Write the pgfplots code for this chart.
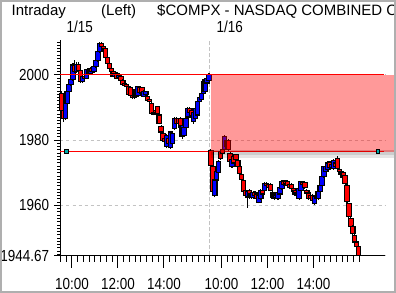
\documentclass[border=0pt]{standalone}
\usepackage{pgfplots}
\pgfplotsset{compat=1.18}
\usepackage{pgfplotstable}
\usepackage{fontspec}
\setmainfont{Liberation Sans}
\newfontfamily\numfont{Liberation Sans}[FakeStretch=0.84]
\definecolor{bordergray}{RGB}{175,175,175}
\definecolor{gridgray}{RGB}{195,195,195}
\definecolor{mk}{RGB}{0,170,170}
\definecolor{pureRed}{RGB}{255,0,0}
\definecolor{pureBlue}{RGB}{0,0,255}
% t = minutes since 9:30 of 1/15 (1/16 starts at 390); 5-minute candles
\pgfplotstableread{
t O H L C
2.5 1994.4 1995.0 1988.8 1989.2
7.5 1989.2 1989.8 1985.7 1986.7
12.5 1986.7 1992.0 1986.2 1991.3
17.5 1991.3 1995.5 1988.0 1995.0
22.5 1995.0 1997.4 1994.6 1997.0
27.5 1997.0 1999.0 1996.6 1998.5
32.5 1998.5 2003.6 1998.2 2003.0
37.5 2003.0 2004.5 2000.6 2001.0
42.5 2001.0 2004.0 2000.6 2003.3
47.5 2003.3 2003.8 2000.8 2001.2
52.5 2001.2 2001.6 1997.5 1998.0
57.5 1998.0 1999.9 1997.6 1999.5
62.5 1999.5 2000.0 1998.4 1999.0
67.5 1999.0 2001.9 1998.6 2001.5
72.5 2001.5 2002.0 2000.0 2000.5
77.5 2000.5 2002.4 2000.1 2002.0
82.5 2002.0 2002.4 2000.6 2001.0
87.5 2001.0 2002.9 2000.6 2002.5
92.5 2002.5 2004.7 2002.1 2004.3
97.5 2004.3 2007.6 2004.0 2007.2
102.5 2007.2 2010.2 2006.8 2009.7
107.5 2009.7 2010.0 2008.4 2008.8
112.5 2008.8 2009.2 2007.6 2008.0
117.5 2008.0 2008.3 2004.8 2005.2
122.5 2005.2 2005.6 2003.2 2003.6
127.5 2003.6 2004.0 2001.6 2002.0
132.5 2002.0 2002.4 2000.6 2001.0
137.5 2001.0 2001.4 1999.2 1999.6
142.5 1999.4 2000.9 1999.0 2000.5
147.5 2000.5 2000.9 1998.6 1999.0
152.5 1999.2 2000.2 1998.8 1999.8
157.5 1999.5 1999.9 1997.9 1998.3
162.5 1998.3 1998.7 1996.6 1997.0
167.5 1997.4 1997.8 1996.2 1996.6
172.5 1997.0 1997.4 1996.1 1996.5
177.5 1996.5 1996.9 1993.6 1994.0
182.5 1996.0 1996.4 1992.8 1993.8
187.5 1993.8 1994.2 1992.6 1993.0
192.5 1993.0 1995.4 1992.6 1995.0
197.5 1993.5 1995.9 1993.1 1995.5
202.5 1993.8 1996.7 1993.4 1996.3
207.5 1996.1 1996.5 1994.1 1994.5
212.5 1996.0 1996.4 1994.1 1994.5
217.5 1993.5 1995.4 1993.1 1995.0
222.5 1994.0 1995.2 1993.6 1994.8
227.5 1993.5 1993.9 1991.8 1992.2
232.5 1992.5 1992.9 1991.4 1991.8
237.5 1991.3 1991.7 1987.8 1988.2
242.5 1988.5 1988.9 1987.6 1988.0
247.5 1989.0 1989.4 1988.1 1988.5
252.5 1990.2 1990.6 1987.8 1988.2
257.5 1987.7 1988.1 1984.8 1985.2
262.5 1984.3 1984.7 1982.1 1982.5
267.5 1982.0 1982.4 1979.6 1980.0
272.5 1980.5 1980.9 1978.0 1979.5
277.5 1978.0 1981.9 1977.5 1981.5
282.5 1980.5 1980.9 1977.5 1979.0
287.5 1977.8 1982.9 1977.3 1982.5
292.5 1979.0 1982.4 1978.6 1982.0
297.5 1983.6 1987.1 1983.2 1986.7
302.5 1986.7 1987.1 1984.6 1985.0
307.5 1986.5 1986.9 1984.6 1985.0
312.5 1986.7 1987.1 1983.6 1984.0
317.5 1981.2 1984.9 1980.5 1984.5
322.5 1981.5 1984.4 1981.1 1984.0
327.5 1984.0 1986.9 1983.6 1986.5
332.5 1987.1 1990.2 1986.7 1989.8
337.5 1989.8 1990.2 1988.1 1988.5
342.5 1989.0 1989.4 1987.1 1987.5
347.5 1985.8 1988.9 1985.0 1988.5
352.5 1986.5 1990.2 1986.1 1989.8
357.5 1987.7 1992.1 1987.3 1991.7
362.5 1991.7 1993.4 1991.3 1993.0
367.5 1992.5 1994.7 1992.1 1994.3
372.5 1994.3 1998.2 1993.9 1997.8
377.5 1995.0 1998.9 1994.6 1998.5
382.5 1997.5 1999.4 1997.1 1999.0
387.5 1998.4 2000.5 1998.0 2000.0
392.5 1976.8 1977.2 1971.9 1972.3
397.5 1972.0 1972.4 1963.8 1964.2
402.5 1963.1 1968.2 1962.5 1967.8
407.5 1967.8 1970.9 1967.4 1970.5
412.5 1970.0 1973.8 1969.6 1973.4
417.5 1976.4 1976.8 1974.0 1974.4
422.5 1977.0 1977.4 1975.6 1976.0
427.5 1977.0 1981.5 1976.6 1981.0
432.5 1980.0 1980.4 1977.6 1978.0
437.5 1980.0 1980.4 1976.6 1977.0
442.5 1976.0 1976.4 1973.0 1973.4
447.5 1972.0 1974.4 1971.6 1974.0
452.5 1975.0 1975.4 1972.6 1973.0
457.5 1975.5 1975.9 1973.6 1974.0
462.5 1973.9 1974.3 1971.4 1971.8
467.5 1971.8 1972.2 1969.4 1969.8
472.5 1969.5 1969.9 1967.6 1968.0
477.5 1967.7 1968.1 1963.8 1964.2
482.5 1964.5 1964.9 1962.6 1963.0
487.5 1962.6 1964.6 1959.3 1964.2
492.5 1964.5 1964.9 1962.1 1962.5
497.5 1962.5 1963.9 1962.1 1963.5
502.5 1962.5 1964.4 1962.1 1964.0
507.5 1964.0 1964.4 1962.6 1963.0
512.5 1963.5 1963.9 1961.6 1962.0
517.5 1961.0 1963.4 1960.6 1963.0
522.5 1962.0 1965.1 1961.6 1964.7
527.5 1964.7 1965.1 1963.1 1963.5
532.5 1964.7 1967.2 1964.3 1966.8
537.5 1966.8 1967.2 1965.6 1966.0
542.5 1966.5 1966.9 1965.1 1965.5
547.5 1966.5 1966.9 1964.3 1964.7
552.5 1964.0 1964.4 1962.1 1962.5
557.5 1963.5 1963.9 1961.6 1962.0
562.5 1962.5 1963.4 1962.1 1963.0
567.5 1962.0 1964.4 1961.6 1964.0
572.5 1963.5 1965.9 1963.1 1965.5
577.5 1965.2 1967.6 1964.8 1967.2
582.5 1967.5 1967.9 1966.1 1966.5
587.5 1967.5 1967.9 1966.4 1966.8
592.5 1967.3 1967.7 1965.6 1966.0
597.5 1966.3 1966.7 1965.1 1965.5
602.5 1966.5 1966.9 1964.9 1965.3
607.5 1965.3 1965.7 1963.8 1964.2
612.5 1964.5 1964.9 1963.1 1963.5
617.5 1963.0 1964.2 1962.6 1963.8
622.5 1962.2 1965.7 1961.8 1965.3
627.5 1964.7 1967.6 1964.3 1967.2
632.5 1967.0 1967.4 1966.1 1966.5
637.5 1967.0 1967.4 1965.1 1965.5
642.5 1964.5 1964.9 1963.4 1963.8
647.5 1963.8 1964.2 1961.8 1962.2
652.5 1963.0 1963.4 1961.6 1962.0
657.5 1963.0 1963.4 1961.1 1961.5
662.5 1960.6 1963.1 1960.0 1962.7
667.5 1962.0 1963.4 1961.6 1963.0
672.5 1962.0 1964.6 1961.6 1964.2
677.5 1964.2 1966.6 1963.8 1966.2
682.5 1966.2 1969.2 1965.8 1968.8
687.5 1968.8 1972.2 1968.4 1971.8
692.5 1970.5 1972.4 1970.1 1972.0
697.5 1971.0 1973.4 1970.6 1973.0
702.5 1973.3 1973.7 1971.1 1971.5
707.5 1971.5 1972.9 1971.1 1972.5
712.5 1971.3 1974.3 1970.9 1973.9
717.5 1973.0 1973.4 1971.6 1972.0
722.5 1974.4 1975.0 1970.9 1971.3
727.5 1971.0 1971.4 1970.1 1970.5
732.5 1970.5 1970.9 1969.1 1969.5
737.5 1970.0 1970.4 1967.0 1968.5
742.5 1969.3 1969.7 1966.3 1966.7
747.5 1966.2 1966.6 1960.7 1961.1
752.5 1960.5 1960.9 1956.1 1956.5
757.5 1956.0 1956.4 1953.1 1953.5
762.5 1953.5 1953.9 1951.0 1951.4
767.5 1950.9 1951.3 1948.4 1948.8
772.5 1948.8 1949.2 1946.9 1947.3
777.5 1947.3 1947.7 1944.6 1944.8
}\candles
\begin{document}
\begin{tikzpicture}[font=\fontsize{15bp}{18bp}\selectfont]
\useasboundingbox (0,0) rectangle (396bp,293bp);
\fill[white] (0,0) rectangle (396bp,293bp);
\begin{axis}[
  at={(60.5bp,37.5bp)}, anchor=south west,
  scale only axis, width=324.5bp, height=215.5bp,
  xmin=0, xmax=846.6, ymin=1944.67, ymax=2010.67,
  enlargelimits=false, clip=false,
  axis x line=bottom, axis y line=left,
  axis line style={-, line width=1.3bp},
  tick align=outside,
  xtick={30,150,270,420,540,660},
  xticklabels={10:00,12:00,14:00,10:00,12:00,14:00},
  minor xtick={0,15,...,780},
  ytick={1944.67,1960,1980,2000},
  yticklabels={1944.67,1960,1980,2000},
  minor ytick={1945,1946,...,2010},
  xtick style={/pgfplots/major tick length=12bp,/pgfplots/minor tick length=6bp, line width=1bp, black},
  ytick style={/pgfplots/major tick length=6.5bp,/pgfplots/minor tick length=3bp, line width=1bp, black},
  ymajorgrids, major grid style={gridgray, line width=1bp, dash pattern=on 3bp off 3bp},
  /pgf/number format/assume math mode=true,
  tick label style={font=\numfont\fontsize{16bp}{18bp}\selectfont},
  xticklabel style={anchor=north, inner sep=0pt, yshift=-18bp},
  yticklabel style={anchor=east, inner sep=0pt, xshift=-7bp},
]
\addplot[gridgray, line width=1bp, dash pattern=on 4bp off 2bp] coordinates {(390,1944.67) (390,2010.67)};
\addplot[draw=pureRed, line width=1bp] coordinates {(0,1976.52) (842.7,1976.52)};
\pgfplotstablegetrowsof{\candles}
\pgfmathtruncatemacro{\lastrow}{\pgfplotsretval-1}
\pgfplotsinvokeforeach{0,...,\lastrow}{
  \pgfplotstablegetelem{#1}{t}\of\candles \edef\cT{\pgfplotsretval}
  \pgfplotstablegetelem{#1}{O}\of\candles \edef\cO{\pgfplotsretval}
  \pgfplotstablegetelem{#1}{H}\of\candles \edef\cH{\pgfplotsretval}
  \pgfplotstablegetelem{#1}{L}\of\candles \edef\cL{\pgfplotsretval}
  \pgfplotstablegetelem{#1}{C}\of\candles \edef\cC{\pgfplotsretval}
  \pgfmathsetmacro{\xa}{\cT-5.8}
  \pgfmathsetmacro{\xb}{\cT+5.8}
  \pgfmathtruncatemacro{\isdown}{\cC<\cO}
  \ifnum\isdown=1 \def\cCol{pureRed}\else\def\cCol{pureBlue}\fi
  \edef\doplot{\noexpand\addplot[black, line width=1.1bp] coordinates {(\cT,\cL) (\cT,\cH)};
    \noexpand\addplot[draw=black, line width=1.1bp, fill=\cCol] coordinates {(\xa,\cO) (\xb,\cO) (\xb,\cC) (\xa,\cC)} -- cycle;}
  \doplot
}
% shadow and gap zone
\addplot[draw=none, fill=black, fill opacity=0.10] coordinates {(393,1977) (875,1977) (875,1974.4) (393,1974.4)} -- cycle;
\addplot[draw=none, fill=black, fill opacity=0.10] coordinates {(393,1977) (875,1977) (875,1975.4) (393,1975.4)} -- cycle;
\addplot[draw=none, fill=pureRed, fill opacity=0.4] coordinates {(392.6,2000.1) (875,2000.1) (875,1976.52) (392.6,1976.52)} -- cycle;
\addplot[draw=pureRed, line width=1bp] coordinates {(0,2000.1) (842.7,2000.1)};
\addplot[only marks, mark=square*, mark size=1.8bp, mark options={fill=mk, draw=black, line width=0.8bp}] coordinates {(15.6,1976.52) (828,1976.52)};
\end{axis}
\node[anchor=base west, inner sep=0pt] at (11.5bp,277.3bp) {Intraday};
\node[anchor=base west, inner sep=0pt] at (101bp,277.3bp) {(Left)};
\node[anchor=base west, inner sep=0pt] at (157bp,277.3bp) {\$COMPX - NASDAQ COMBINED COMPOSITE};
\node[anchor=base west, inner sep=0pt, font=\numfont\fontsize{16bp}{18bp}\selectfont] at (66.5bp,260.7bp) {1/15};
\node[anchor=base west, inner sep=0pt, font=\numfont\fontsize{16bp}{18bp}\selectfont] at (216.5bp,260.7bp) {1/16};
\draw[bordergray, line width=2bp] (1bp,1bp) rectangle (395bp,292bp);
\end{tikzpicture}
\end{document}
